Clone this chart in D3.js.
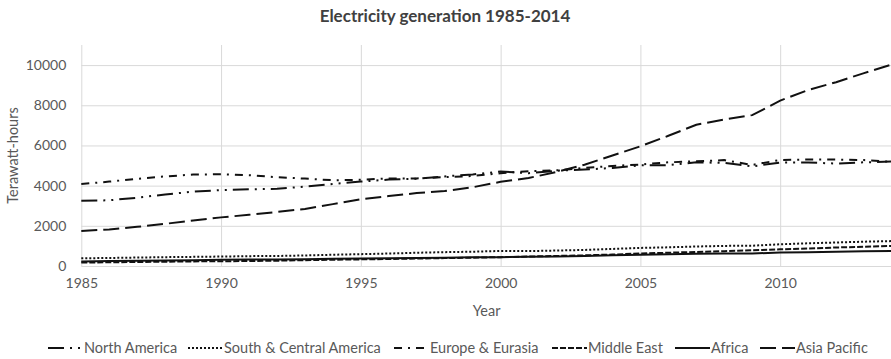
<!DOCTYPE html>
<html>
<head>
<meta charset="utf-8">
<script src="https://cdn.jsdelivr.net/npm/d3@7"></script>
<style>
  html, body { margin: 0; padding: 0; background: #fff; }
  svg { display: block; font-family: Lato, "Open Sans", sans-serif; }
</style>
</head>
<body>
<svg id="chart" width="891" height="359"></svg>
<script>
// Electricity generation by region, terawatt-hours, 1985-2014
const years = d3.range(1985, 2015);
const northAmerica = [3250, 3270, 3400, 3560, 3700, 3780, 3820, 3840, 3950, 4080,
  4200, 4300, 4340, 4460, 4560, 4700, 4620, 4740, 4800, 4880,
  5010, 5020, 5160, 5130, 4960, 5150, 5150, 5100, 5160, 5200];
const southCentralAmerica = [383, 400, 420, 440, 455, 470, 490, 500, 525, 560,
  590, 620, 660, 690, 710, 750, 740, 770, 800, 850,
  900, 930, 970, 1000, 1010, 1080, 1130, 1170, 1210, 1240];
const europeEurasia = [4082, 4200, 4340, 4460, 4550, 4570, 4520, 4420, 4350, 4270,
  4290, 4360, 4360, 4420, 4480, 4620, 4720, 4760, 4880, 4980,
  5050, 5160, 5210, 5270, 5030, 5280, 5300, 5300, 5270, 5180];
const middleEast = [170, 185, 200, 215, 230, 240, 245, 265, 290, 310,
  330, 350, 370, 395, 415, 440, 470, 500, 530, 570,
  620, 660, 700, 740, 780, 830, 870, 920, 960, 1000];
const africa = [230, 245, 260, 275, 290, 310, 320, 325, 340, 355,
  370, 385, 400, 415, 430, 440, 455, 475, 500, 530,
  560, 580, 610, 625, 620, 670, 685, 710, 730, 747];
const asiaPacific = [1742, 1820, 1950, 2100, 2260, 2420, 2550, 2690, 2840, 3080,
  3320, 3480, 3630, 3730, 3920, 4190, 4380, 4680, 5040, 5500,
  5960, 6480, 7030, 7290, 7510, 8230, 8760, 9150, 9600, 10030];

const seriesNames = ["North America", "South & Central America", "Europe & Eurasia",
  "Middle East", "Africa", "Asia Pacific"];
const seriesValues = [northAmerica, southCentralAmerica, europeEurasia,
  middleEast, africa, asiaPacific];
const yTicks = [0, 2000, 4000, 6000, 8000, 10000];
const xTicks = [1985, 1990, 1995, 2000, 2005, 2010];

// dash patterns per series (stroke width 2)
const dashes = ["16,6,2,6,2,6", "2,2", "8,6,2,6", "6,2", null, "16,6"];

const svg = d3.select("#chart");
const x = d3.scaleLinear().domain([1985, 2014]).range([81.3, 892]);
const y = d3.scaleLinear().domain([0, 11000]).range([266, 45]);

const grid = "#d9d9d9", textCol = "#595959";
const fontFamily = "Lato, 'Open Sans', sans-serif";
const labelSize = "14.5px";
const tickSize = "14px";

// horizontal gridlines
svg.append("g")
  .attr("transform", `translate(${x(1985)},0)`)
  .call(d3.axisLeft(y).tickValues(yTicks).tickSize(-(891 - x(1985))).tickFormat(""))
  .call(g => g.select(".domain").remove())
  .call(g => g.selectAll("line").attr("stroke", grid).attr("stroke-width", 1));

// vertical gridlines
svg.append("g")
  .attr("transform", `translate(0,${y(0)})`)
  .call(d3.axisBottom(x).tickValues(xTicks).tickSize(-(y(0) - 45)).tickFormat(""))
  .call(g => g.select(".domain").remove())
  .call(g => g.selectAll("line").attr("stroke", grid).attr("stroke-width", 1));

// y tick labels
svg.append("g")
  .attr("transform", `translate(${x(1985)},0)`)
  .call(d3.axisLeft(y).tickValues(yTicks).tickSize(0).tickPadding(15).tickFormat(d3.format("d")))
  .call(g => g.select(".domain").remove())
  .call(g => g.selectAll("text").attr("fill", textCol).style("font-size", tickSize)
    .style("font-family", fontFamily));

// x tick labels
svg.append("g")
  .attr("transform", `translate(0,${y(0)})`)
  .call(d3.axisBottom(x).tickValues(xTicks).tickSize(0).tickPadding(12).tickFormat(d3.format("d")))
  .call(g => g.select(".domain").remove())
  .call(g => g.selectAll("text").attr("fill", textCol).style("font-size", tickSize)
    .style("font-family", fontFamily));

// series lines
const line = d3.line().x((d, i) => x(years[i])).y(d => y(d));
const plot = svg.append("g");
seriesValues.forEach((vals, i) => {
  plot.append("path")
    .datum(vals)
    .attr("d", line)
    .attr("fill", "none")
    .attr("stroke", "#111")
    .attr("stroke-width", 2)
    .attr("stroke-dasharray", dashes[i]);
});

// title
svg.append("text")
  .attr("x", 445).attr("y", 22)
  .attr("text-anchor", "middle")
  .attr("fill", "#404040")
  .style("font-size", "17px").style("font-weight", "bold")
  .text("Electricity generation 1985-2014");

// axis titles
svg.append("text")
  .attr("transform", `translate(18,${(y(0) + 45) / 2}) rotate(-90)`)
  .attr("text-anchor", "middle")
  .attr("fill", textCol).style("font-size", labelSize)
  .text("Terawatt-hours");
svg.append("text")
  .attr("x", (x(1985) + 892) / 2).attr("y", 316)
  .attr("text-anchor", "middle")
  .attr("fill", textCol).style("font-size", labelSize)
  .text("Year");

// legend
const legendX = [48, 188, 394, 552, 675, 760];
const legend = svg.append("g").attr("transform", "translate(0,348)");
seriesNames.forEach((name, i) => {
  const g = legend.append("g").attr("transform", `translate(${legendX[i]},0)`);
  g.append("line")
    .attr("x1", 0).attr("x2", 35).attr("y1", 0).attr("y2", 0)
    .attr("stroke", "#111").attr("stroke-width", 2)
    .attr("stroke-dasharray", dashes[i]);
  g.append("text")
    .attr("x", 36).attr("y", 5)
    .attr("fill", textCol).style("font-size", labelSize)
    .text(name);
});
</script>
</body>
</html>
